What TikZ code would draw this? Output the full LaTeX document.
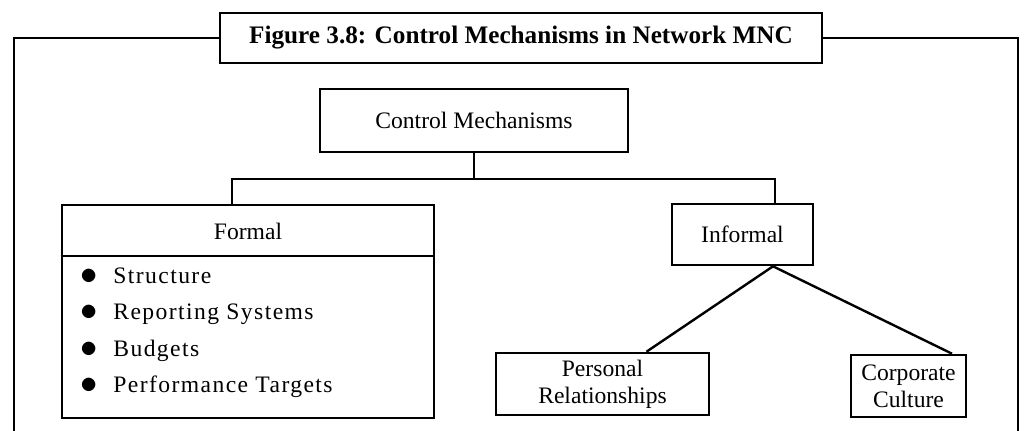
\documentclass[tikz,border=0pt]{standalone}
\usepackage{fontspec}
\setmainfont{Liberation Serif}
\newfontfamily\spacedfont[LetterSpace=6]{Liberation Serif}
\tikzset{
  txt/.style={inner sep=0pt, align=center, font=\fontsize{11.8}{13.5}\selectfont},
  box/.style={txt, draw, line width=1.3pt},
  conn/.style={line width=1.2pt},
  frame/.style={line width=1pt},
  item/.style={anchor=base west, inner sep=0pt, font=\fontsize{11.8}{13.5}\spacedfont},
  dot/.style={anchor=base, inner sep=0pt, font=\fontsize{17}{17}\selectfont}
}
\begin{document}
\begin{tikzpicture}[x=0.5pt, y=-0.5pt]
\useasboundingbox (0,0) rectangle (1032,430);
% title and frame
\node[box, minimum width=301pt, minimum height=25pt, font=\fontsize{12.6}{14}\selectfont\bfseries] (title) at (521,38) {Figure 3.8: Control Mechanisms in Network MNC};
\coordinate (fl) at (14,431);
\coordinate (fr) at (1018,431);
\draw[frame] (title.west) -| (fl);
\draw[frame] (title.east) -| (fr);
% main boxes
\node[box, minimum width=154pt, minimum height=31.5pt] (cm) at (474,120.5) {Control Mechanisms};
\node[box, minimum width=186pt, minimum height=106.5pt] (fbox) at (248,311.5) {};
\node[txt] (fh) at (248,231) {Formal};
\coordinate (div) at (248,256);
\draw[line width=1.3pt] (fbox.west |- div) -- (fbox.east |- div);
\node[box, minimum width=70.5pt, minimum height=30.5pt] (inf) at (742.5,234.5) {Informal};
\node[box, minimum width=106.5pt, minimum height=31pt] (pr) at (602.5,384) {Personal\\Relationships};
\node[box, minimum width=57.5pt, minimum height=31pt] (cc) at (908.5,386) {Corporate\\Culture};
% list items
\node[dot] (b1) at (89,284) {$\bullet$};
\node[item] (t1) at (113,283) {Structure};
\node[dot] (b2) at (89,320.5) {$\bullet$};
\node[item] (t2) at (113,319.5) {Reporting Systems};
\node[dot] (b3) at (89,357) {$\bullet$};
\node[item] (t3) at (113,356) {Budgets};
\node[dot] (b4) at (89,393.5) {$\bullet$};
\node[item] (t4) at (113,392.5) {Performance Targets};
% connectors
\coordinate (fj) at (232,179);
\coordinate (ij) at (775,179);
\draw[conn] (cm.south) -- (cm.south |- fj);
\draw[conn] (fbox.north -| fj) -- (fj) -- (ij) -- (inf.north -| ij);
\coordinate (ib) at (773,265);
\draw[conn] (inf.south -| ib) -- ([xshift=22pt]pr.north);
\draw[conn] (inf.south -| ib) -- ([xshift=21.75pt]cc.north);
\end{tikzpicture}
\end{document}
